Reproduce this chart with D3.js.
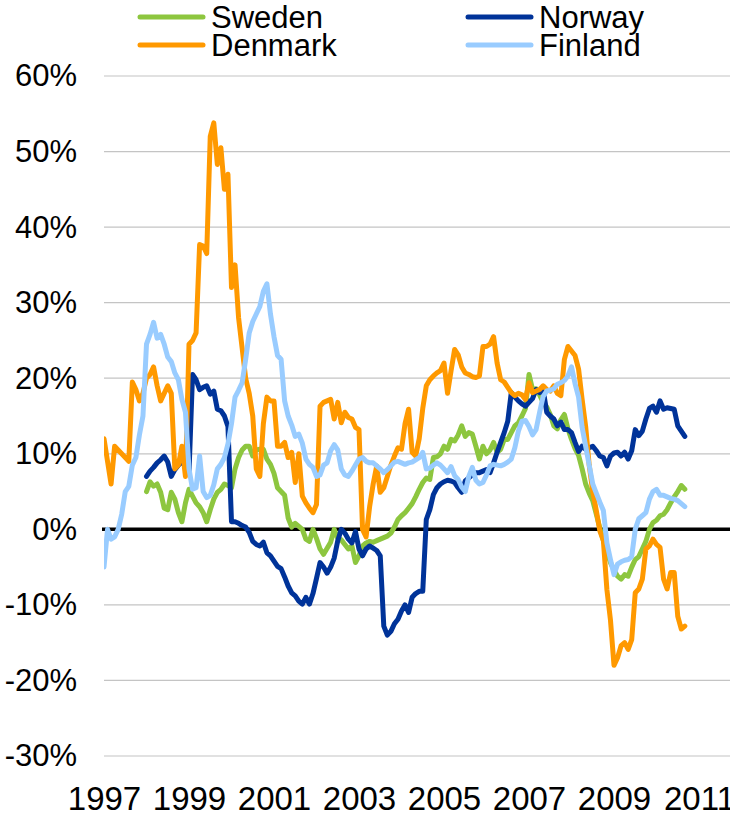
<!DOCTYPE html>
<html>
<head>
<meta charset="utf-8">
<script src="https://cdn.jsdelivr.net/npm/d3@7"></script>
<style>
  body { margin: 0; background: #ffffff; }
  svg { display: block; font-family: "Liberation Sans", Arial, sans-serif; }
</style>
</head>
<body>
<svg id="chart"></svg>
<script>
// monthly values, Jan 1997 .. Sep 2010 (null = no data)
const startDate = new Date(1997, 0, 1);

const sweden = [
    null, null, null, null, null, null, null, null, null, null, null, null,
    5, 6.3, 5.7, 6, 4.9, 2.8, 2.6, 4.9, 4, 2.2, 1, 3.5,
    5.3, 4.4, 3.5, 3, 2.2, 1, 2.6, 4, 4.9, 5.3, 6, 5.8,
    5.5, 8, 9.5, 10.5, 11, 11, 9.7, 10.5, 10.6, 10.6, 9.3, 8.6,
    7.4, 5.5, 5, 4.5, 1.5, 0.3, 0.8, 0.4, 0, -1.3, -1.6, 0,
    -1.2, -2.6, -3.3, -2.5, -1.7, 0, -1.2, -1.4, -2, -2.6, -2.2, -4.4,
    -3.5, -2.2, -1.8, -1.6, -1.7, -1.5, -1.3, -1.1, -0.9, -0.5, 0.3, 1.3,
    1.8, 2.2, 2.8, 3.4, 4.3, 5.3, 6.2, 6.8, 6.6, 9.5, 9.6, 10,
    11, 10.6, 11.9, 11.7, 12.5, 13.7, 12.3, 12.8, 12.6, 11, 9.3, 11,
    10, 10.5, 11.5, 10.2, 10.6, 11.9, 11.9, 12.8, 13.7, 14.1, 15, 16,
    20.5, 18.5, 18.6, 17.8, 16.8, 16.2, 15.2, 13.7, 13.3, 14.5, 15.2, 13.3,
    11.9, 10.7, 9.8, 8, 6, 4.8, 3.8, 2, 0.2, -1.5, -3, -4.4,
    -5.4, -6.2, -6.6, -6, -6.2, -5, -4, -3.6, -2.6, -1.6, 0, 0.9,
    1.2, 1.8, 2, 2.6, 3.5, 4.3, 5, 5.8, 5.3
];

const norway = [
    null, null, null, null, null, null, null, null, null, null, null, null,
    7, 7.7, 8.2, 8.8, 9.2, 9.7, 8.9, 7, 7.9, 8.5, 8.9, 8.5,
    7.5, 20.5, 19.8, 18.5, 18.8, 19, 17.9, 18.3, 15.9, 15.7, 15, 13.6,
    1, 1, 0.8, 0.5, 0.3, -0.4, -1.6, -2, -2.2, -1.7, -3.1, -3.5,
    -4.2, -4.9, -5.2, -6.3, -7.5, -8.4, -8.8, -9.5, -9.9, -9, -9.9, -8.5,
    -6.5, -4.4, -5, -5.8, -5, -3.8, -1.5, 0, -0.5, -1.3, -1.8, -0.3,
    -2.6, -3.5, -2.6, -2.2, -2.5, -2.8, -3.5, -12.8, -14, -13.5, -12.5, -11.9,
    -10.8, -10, -11, -9, -8.5, -8.2, -8.2, 1.3, 2.6, 4.6, 5.5, 6,
    6.3, 6.5, 6.4, 6.2, 5.5, 4.9, 6.4, 6.8, 7.2, 7.5, 7.5, 7.7,
    7.9, 7.5, 8.8, 10.2, 11.5, 12.8, 14.3, 18.1, 17.5, 17, 16.6, 16.3,
    16.8, 17.3, 18.5, 18.1, 18.5, 15.5, 15, 14.6, 13.7, 14.2, 13.2, 13.2,
    12.8, 11.5, 10.3, 11, 10.6, 10.8, 11, 10.4, 9.7, 9.5, 8.4, 9.7,
    10.1, 10.2, 9.7, 10.2, 9.3, 10.4, 13.2, 12.4, 13, 14.6, 16, 16.3,
    15.5, 17, 15.9, 16.1, 16, 15.9, 13.7, 13, 12.3
];

const denmark = [
    12, 9, 6, 11, 10.5, 10, 9.5, 9, 19.5, 18.5, 17, 18,
    20, 20.5, 21.5, 19, 17, 18, 19, 18, 8, 8.5, 11, 7,
    24.5, 25, 26, 37.7, 37.5, 36.5, 52, 53.8, 48.3, 50.5, 45, 47,
    32, 35, 28, 24, 20, 18, 15, 8, 7, 14, 17.5, 17,
    17, 11, 11, 11.5, 9.5, 10.2, 6.2, 10, 4.4, 3.5, 2.8, 2.2,
    3.3, 16.3, 16.8, 17, 17.2, 14.6, 16.8, 14.1, 15.5, 14.8, 14.6, 13.5,
    13.2, 0, -1, 3, 6, 8.4, 4.9, 5.5, 7, 8.5, 9.7, 10.8,
    10.6, 14, 15.9, 10.2, 9.7, 12, 16, 19, 19.8, 20.3, 20.7, 21,
    22, 18, 21, 23.8, 23.1, 21.5, 20.7, 20.5, 20.2, 20.1, 20.3, 24.2,
    24.2, 24.5, 25.5, 22, 19.8, 19.5, 18.8, 18.1, 17.7, 18, 17.8, 17.2,
    19.4, 18.1, 18.3, 18.5, 19, 18.5, 18.3, 19, 18, 17.7, 22.5, 24.2,
    23.6, 23, 21.2, 17.2, 13.6, 8.5, 5, 2.5, -0.2, -1.5, -8, -12,
    -18, -17, -15.4, -15, -15.9, -14.6, -8.4, -7.9, -6.6, -2.6, -2.2, -1.3,
    -2, -2.4, -6.6, -7.9, -5.7, -5.7, -11.5, -13.2, -12.8
];

const finland = [
    -5, 0, -1.3, -1, 0, 2, 5, 5.7, 8.5, 9.5, 12.5, 15,
    24.5, 25.8, 27.4, 25.3, 25.8, 24.5, 22.8, 22.2, 20.7, 19.8, 17.2, 15.5,
    8, 5.3, 5.5, 9.7, 5, 4.2, 4.5, 5.9, 8, 8.6, 9.5, 11.3,
    14, 17.5, 18.4, 19.4, 22.5, 26, 27.5, 28.5, 29.5, 31.5, 32.5, 28.5,
    25.5, 23, 22.5, 17, 15, 13.8, 12.3, 12.6, 11.4, 9.3, 8.6, 8.2,
    7, 7.2, 8.5, 8.8, 10.4, 11.2, 10.5, 8, 7.2, 7, 7.7, 8.5,
    9.3, 9.5, 9, 8.8, 8.8, 8.4, 8, 7.5, 7.9, 8.4, 8.9, 9,
    8.8, 8.6, 8.8, 8.9, 9.2, 9.5, 10.2, 8, 8.1, 8.5, 8.8, 8.5,
    8, 7.5, 8.3, 7.1, 6.6, 5.6, 5, 7, 8.2, 6.5, 6, 6.2,
    7.2, 8.4, 8.6, 8.5, 8.4, 8.6, 8.9, 9.3, 10.8, 13, 14.3, 14.4,
    13.6, 12.5, 13.2, 15.5, 17.6, 18.3, 18.4, 18.6, 19.2, 19.4, 19.7, 20.3,
    21.5, 19.3, 17.5, 13.5, 11, 8.5, 6, 4.8, 3.6, 2.5, -1.8, -4,
    -6, -4.6, -4.3, -4.1, -4, -3.6, 0, 1.4, 1.8, 2.2, 4, 5,
    5.3, 4.5, 4.5, 4.3, 4.1, 4, 3.8, 3.4, 3
];

const seriesNames = ["Sweden", "Norway", "Denmark", "Finland"];
const seriesColors = ["#8dc63f", "#003399", "#ff9900", "#99ccff"];
const seriesValues = [sweden, norway, denmark, finland];

const yTicks = [-30, -20, -10, 0, 10, 20, 30, 40, 50, 60];
const yearLabels = [1997, 1999, 2001, 2003, 2005, 2007, 2009, 2011];

const width = 730, height = 815;
const margin = {l: 104, r: 0, t: 76, b: 59};
const fontSize = 31;

const svg = d3.select("#chart").attr("width", width).attr("height", height);

const monthOf = yr => d3.timeMonth.count(startDate, new Date(yr, 0, 1));

const x = d3.scaleLinear()
    .domain([0, monthOf(2011)])
    .range([margin.l, 699]);

const y = d3.scaleLinear()
    .domain([-30, 60])
    .range([height - margin.b, margin.t]);

// gridlines
svg.append("g").selectAll("line")
    .data(yTicks.filter(d => d !== 0))
    .join("line")
    .attr("x1", margin.l)
    .attr("x2", width)
    .attr("y1", d => y(d))
    .attr("y2", d => y(d))
    .attr("stroke", "#c4c4c4")
    .attr("stroke-width", 1.2);

// y axis labels
svg.append("g")
    .attr("transform", `translate(${margin.l},0)`)
    .call(d3.axisLeft(y).tickValues(yTicks).tickFormat(d => d + "%").tickSize(0).tickPadding(27))
    .call(g => g.select(".domain").remove())
    .call(g => g.selectAll("text")
        .style("font-family", "'Liberation Sans', Arial, sans-serif")
        .style("font-size", fontSize + "px")
        .attr("fill", "#000"));

// x axis labels
svg.append("g")
    .attr("transform", `translate(0,${y(-30)})`)
    .call(d3.axisBottom(x).tickValues(yearLabels.map(monthOf)).tickFormat((d, i) => yearLabels[i]).tickSize(0).tickPadding(31))
    .call(g => g.select(".domain").remove())
    .call(g => g.selectAll("text")
        .style("font-family", "'Liberation Sans', Arial, sans-serif")
        .style("font-size", "33px")
        .attr("fill", "#000"));

// zero line
svg.append("line")
    .attr("x1", margin.l - 2)
    .attr("x2", width)
    .attr("y1", y(0))
    .attr("y2", y(0))
    .attr("stroke", "#000")
    .attr("stroke-width", 3.5);

// series lines
const line = d3.line()
    .defined(d => d != null)
    .x((d, i) => x(i))
    .y(d => y(d));

svg.append("defs").append("clipPath").attr("id", "plot")
    .append("rect")
    .attr("x", margin.l).attr("y", 0)
    .attr("width", width - margin.l).attr("height", height);

svg.append("g")
    .attr("clip-path", "url(#plot)")
    .selectAll("path")
    .data(seriesValues)
    .join("path")
    .attr("d", line)
    .attr("fill", "none")
    .attr("stroke", (d, i) => seriesColors[i])
    .attr("stroke-width", 5)
    .attr("stroke-linejoin", "round")
    .attr("stroke-linecap", "round");

// legend
const legendPos = [[140, 17], [468, 17], [140, 45], [468, 45]];
const legend = svg.append("g").selectAll("g")
    .data(seriesNames)
    .join("g")
    .attr("transform", (d, i) => `translate(${legendPos[i][0]},${legendPos[i][1]})`);

legend.append("line")
    .attr("x1", 0).attr("x2", 63)
    .attr("stroke", (d, i) => seriesColors[i])
    .attr("stroke-width", 5)
    .attr("stroke-linecap", "round");

legend.append("text")
    .attr("x", 71)
    .attr("y", 11)
    .style("font-size", fontSize + "px")
    .attr("fill", "#000")
    .text(d => d);
</script>
</body>
</html>
